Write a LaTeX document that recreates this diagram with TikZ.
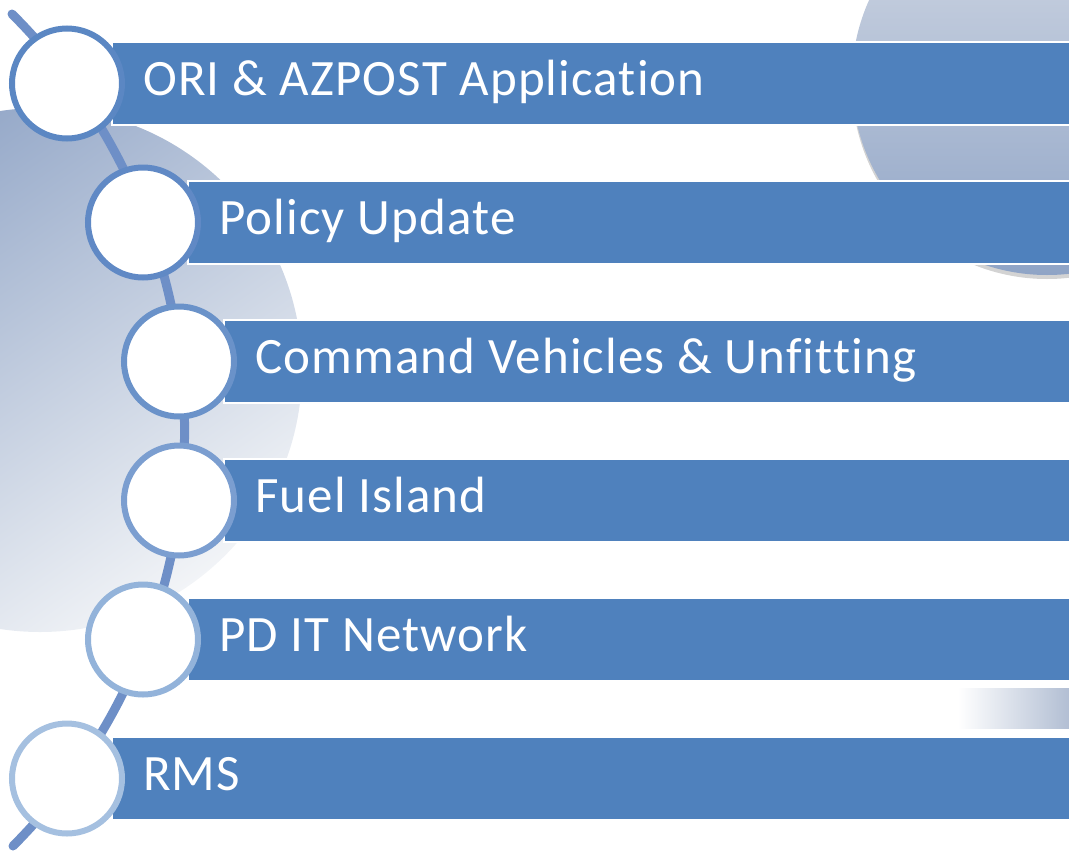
\documentclass[tikz,border=0pt]{standalone}
\usepackage{fontspec}
\setmainfont{Carlito}[Ligatures=NoCommon, LetterSpace=2.2]
\usetikzlibrary{shadings}
\definecolor{barblue}{HTML}{4F81BD}
\definecolor{connblue}{HTML}{6E8FC7}
\definecolor{ringA}{HTML}{5B87C3}
\definecolor{ringB}{HTML}{6089C5}
\definecolor{ringC}{HTML}{6A92C9}
\definecolor{ringD}{HTML}{7B9ED0}
\definecolor{ringE}{HTML}{93B3DA}
\definecolor{ringF}{HTML}{A5C0E0}
\definecolor{bgdark}{HTML}{92A6C7}
\definecolor{bglight}{HTML}{F2F4F7}
\definecolor{trtop}{HTML}{D4DAE5}
\definecolor{trbot}{HTML}{8FA4C6}
\definecolor{grend}{HTML}{AEBBD1}
\tikzset{
  bar/.style={fill=barblue, draw=white, line width=1.5pt},
  ring/.style={circle, fill=white, draw=#1, line width=6pt, minimum size=110pt, inner sep=0pt},
  lbl/.style={anchor=base west, inner sep=0pt, text=white, font=\fontsize{51}{60}\selectfont},
  conn/.style={draw=connblue, line width=9pt, line cap=round}
}
\begin{document}
\begin{tikzpicture}[x=1pt,y=-1pt]
\useasboundingbox (0,0) rectangle (1069,852);
% background decorations
\shade[shading=axis, top color=bgdark, bottom color=bglight, shading angle=35] (40,370) circle[radius=262];
\fill[gray, opacity=0.35] (1047,84) circle[radius=195];
\shade[top color=trtop, bottom color=trbot] (1047,80) circle[radius=195];
\shade[left color=white, right color=grend] (958,688) rectangle (1075,728);
% connector arc
\coordinate (ltop) at (12,14);
\coordinate (lbot) at (13,846);
\draw[conn] (ltop) to[bend left=45] (lbot);
% bars
\fill[bar] (112,42) rectangle (1075,125);
\fill[bar] (188,181) rectangle (1075,264);
\fill[bar] (224,320) rectangle (1075,403);
\fill[bar] (224,459) rectangle (1075,542);
\fill[bar] (188,598) rectangle (1075,681);
\fill[bar] (112,737) rectangle (1075,820);
% circles
\node[ring=ringA] (c1) at (67,83.5) {};
\node[ring=ringB] (c2) at (143,222.5) {};
\node[ring=ringC] (c3) at (179,361.5) {};
\node[ring=ringD] (c4) at (179,500.5) {};
\node[ring=ringE] (c5) at (143,639.5) {};
\node[ring=ringF] (c6) at (67,778.5) {};
% labels
\node[lbl] (t1) at (143,95.5) {ORI \& AZPOST Application};
\node[lbl] (t2) at (219,234.5) {Policy Update};
\node[lbl] (t3) at (255,373.5) {Command Vehicles \& Unfitting};
\node[lbl] (t4) at (255,512.5) {Fuel Island};
\node[lbl] (t5) at (219,651.5) {PD IT Network};
\node[lbl] (t6) at (143,790.5) {RMS};
\end{tikzpicture}
\end{document}
